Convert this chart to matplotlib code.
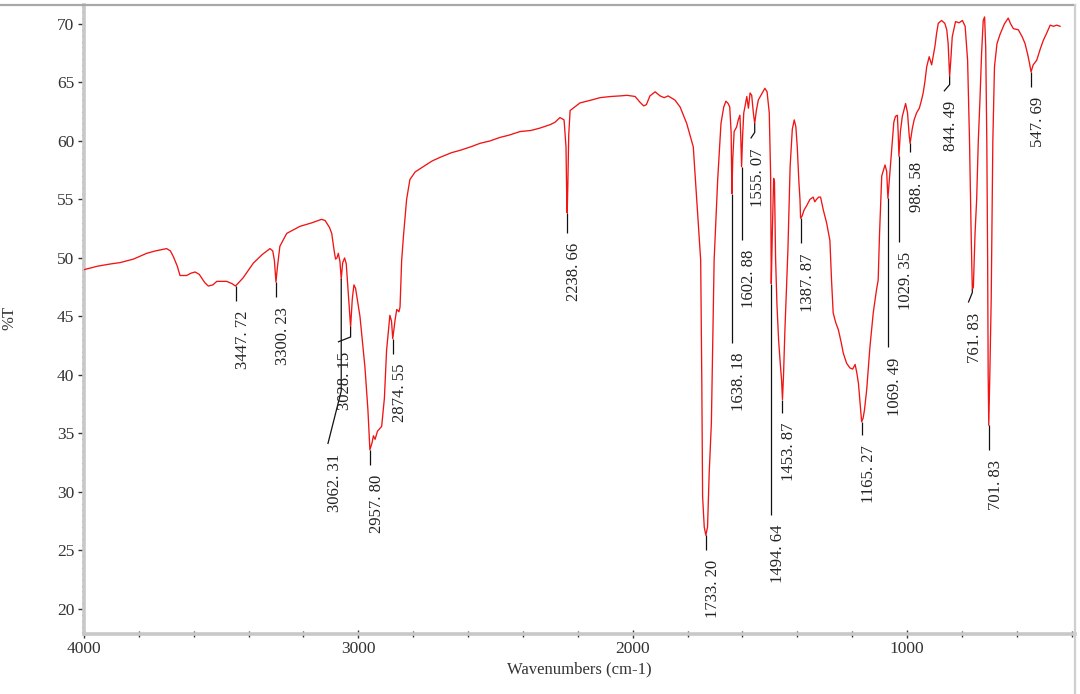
import numpy as np
import matplotlib
matplotlib.use("Agg")
import matplotlib.pyplot as plt
from matplotlib.lines import Line2D

# ---------------- data ----------------
wavenumber = [
    4000, 3950, 3900, 3869, 3820, 3790, 3771, 3740, 3720, 3699, 3685, 3674, 3660, 3650,
    3626, 3610, 3595, 3580, 3560, 3547, 3530, 3516, 3480, 3460, 3447.72, 3420, 3383,
    3350, 3322, 3312, 3306, 3300.23, 3295, 3286, 3261, 3213, 3170, 3134, 3121, 3105,
    3097, 3088, 3083, 3078, 3073, 3067, 3062.31, 3057, 3050, 3044, 3035, 3028.15, 3022,
    3016, 3010, 2994, 2976, 2965, 2957.80, 2950, 2945, 2939, 2930, 2915, 2905, 2897,
    2885, 2879, 2874.55, 2866, 2860, 2852, 2848, 2842, 2835, 2824, 2812, 2793, 2757,
    2730, 2702, 2660, 2629, 2590, 2556, 2520, 2484, 2450, 2411, 2370, 2338, 2300, 2283,
    2265, 2250, 2243, 2240.5, 2238.66, 2236.5, 2233, 2228, 2192, 2150, 2119, 2080,
    2046, 2020, 1991, 1973, 1960, 1950, 1937, 1918, 1900, 1885, 1871, 1846, 1827, 1803,
    1779, 1763, 1752, 1748, 1745, 1739, 1733.20, 1727, 1721, 1713, 1703, 1690, 1678,
    1668, 1660, 1652, 1646, 1641, 1638.18, 1635, 1630, 1621, 1615, 1609, 1606, 1602.88,
    1599, 1595, 1590, 1584, 1578, 1572, 1566, 1560, 1555.07, 1549, 1542, 1530, 1518,
    1510, 1502, 1497, 1494.64, 1491, 1486, 1483, 1479, 1474, 1468, 1462, 1457, 1453.87,
    1450, 1445, 1434, 1426, 1418, 1411, 1405, 1400, 1394, 1390, 1387.87, 1382, 1375,
    1365, 1354, 1342, 1336, 1330, 1322, 1315, 1305, 1293, 1281, 1275, 1269, 1260, 1250,
    1240, 1232, 1220, 1208, 1198, 1189, 1183, 1177, 1171, 1165.27, 1160, 1155, 1147,
    1135, 1123, 1111, 1105, 1100, 1092, 1080, 1074, 1072, 1069.49, 1064, 1055, 1048,
    1042, 1035, 1032, 1029.35, 1024, 1017, 1005, 998, 992, 988.58, 981, 974, 965, 955,
    948, 941, 935, 928, 919, 914, 910, 904, 898, 892, 886, 874, 862, 855, 850, 847,
    844.49, 840, 835, 823, 810, 798, 788, 779, 772, 766, 761.83, 758, 752, 746, 740,
    734, 728, 722, 717, 713, 709, 706, 704, 701.83, 698, 693, 687, 681, 672, 661, 645,
    631, 622, 612, 594, 580, 570, 560, 553, 547.69, 540, 527, 515, 503, 491, 478, 466,
    454, 442,
]
transmittance = [
    49.0, 49.3, 49.5, 49.6, 49.9, 50.2, 50.4, 50.6, 50.7, 50.8, 50.6, 50.1, 49.3, 48.5,
    48.5, 48.7, 48.8, 48.6, 47.9, 47.6, 47.7, 48.0, 48.0, 47.8, 47.6, 48.3, 49.55,
    50.3, 50.8, 50.6, 49.8, 47.95, 49.2, 51.0, 52.1, 52.7, 53.0, 53.3, 53.2, 52.6,
    52.1, 50.6, 49.9, 50.0, 50.4, 49.7, 48.2, 49.6, 50.0, 49.5, 46.5, 44.1, 46.5,
    47.7, 47.4, 45.0, 40.7, 37.0, 33.6, 34.2, 34.8, 34.5, 35.2, 35.6, 38.0, 42.1,
    45.1, 44.6, 43.1, 44.7, 45.6, 45.4, 45.8, 49.8, 52.0, 55.0, 56.7, 57.35, 57.9,
    58.3, 58.6, 59.0, 59.2, 59.5, 59.8, 60.0, 60.3, 60.5, 60.8, 60.9, 61.1, 61.4, 61.6,
    62.0, 61.8, 59.5, 55.5, 53.85, 56.0, 60.5, 62.6, 63.25, 63.5, 63.7, 63.8,
    63.85, 63.9, 63.8, 63.3, 63.0, 63.1, 63.85, 64.2, 63.85, 63.7, 63.85, 63.5, 62.9, 61.5,
    59.5, 53.8, 49.8, 39.6, 29.6, 27.0, 26.3, 27.0, 31.6, 35.9, 49.8, 56.7, 61.5,
    62.9, 63.4, 63.2, 62.9, 60.7, 55.5, 58.5, 60.8, 61.2, 61.8, 62.2, 60.5, 57.8,
    60.5, 62.4, 63.0, 63.8, 62.8, 64.1, 63.9, 62.4, 61.5, 62.6, 63.5, 64.0, 64.5,
    64.2, 62.4, 57.0, 47.8, 52.0, 56.8, 56.5, 50.0, 46.0, 43.0, 41.0, 39.5, 37.9,
    40.0, 43.8, 50.7, 57.8, 61.0, 61.8, 61.2, 59.5, 56.5, 55.0, 53.4, 53.6, 54.1,
    54.5, 55.0, 55.2, 54.8, 55.0, 55.2, 55.2, 54.1, 53.0, 51.5, 48.1, 45.3, 44.5, 43.85,
    42.8, 41.85, 41.0, 40.6, 40.5, 40.9, 40.2, 39.3, 37.6, 36.0, 36.3, 37.0, 38.7,
    42.4, 45.3, 47.3, 48.1, 52.1, 57.0, 57.95, 57.4, 56.4, 55.1, 56.8, 59.5, 61.6,
    62.1, 62.2, 60.65, 58.7, 60.8, 62.1, 63.2, 62.4, 60.5, 59.8, 61.0, 61.8, 62.4, 62.8,
    63.4, 64.1, 65.0, 66.35, 67.2, 66.8, 66.5, 67.3, 68.1, 69.2, 70.05, 70.3, 70.05, 69.5, 68.35, 66.8,
    65.5, 67.0, 68.9, 70.2, 70.1, 70.3, 69.8, 66.9, 60.0, 52.0, 47.3, 47.5, 52.0, 55.0, 60.0,
    63.5, 67.5, 70.3, 70.6, 68.0, 60.0, 50.0, 40.0, 35.7, 40.0, 46.4, 60.0, 66.35, 68.3, 69.1, 70.0,
    70.5, 70.0, 69.6, 69.5, 68.9, 68.35, 67.4, 66.6, 65.9, 66.5, 66.9, 67.8, 68.6, 69.2, 69.9, 69.8,
    69.9, 69.8,
]

peak_labels = [3447.72, 3300.23, 3062.31, 3028.15, 2957.80, 2874.55, 2238.66, 1733.20,
               1638.18, 1602.88, 1555.07, 1494.64, 1453.87, 1387.87, 1165.27, 1069.49,
               1029.35, 988.58, 844.49, 761.83, 701.83, 547.69]

x_ticks = [4000, 3000, 2000, 1000]
y_ticks = [20, 25, 30, 35, 40, 45, 50, 55, 60, 65, 70]

# ------------- layout (pixels) -------------
# (vertical drop, hook dx, hook dy) for each peak connector
connectors = [(15, 0, 0), (15, 0, 0), (112, -13.4, 53), (10, -12.7, 5), (15, 0, 0),
              (15, 0, 0), (20, 0, 0), (15, 0, 0), (149, 0, 0), (73, 0, 0), (9, -4, 6),
              (231, 0, 0), (13, 0, 0), (25, 0, 0), (13, 0, 0), (149, 0, 0), (86, 0, 0),
              (9, 0, 0), (8, -5.7, 6.7), (3, -4, 10), (25, 0, 0), (15, 0, 0)]

W, H, DPI = 1080, 694, 100
SERIF = ["Liberation Serif", "DejaVu Serif"]
plt.rcParams["font.family"] = SERIF

fig = plt.figure(figsize=(W / DPI, H / DPI), dpi=DPI)
fig.patch.set_facecolor("white")
ax_l, ax_r, ax_t, ax_b = 84, 1075, 5, 634
ax = fig.add_axes([ax_l / W, 1 - ax_b / H, (ax_r - ax_l) / W, (ax_b - ax_t) / H])

ax.plot(wavenumber, transmittance, color="#f01414", lw=0.95, zorder=3)
ax.set_xlim(4000, 387.5)
ax.set_ylim(17.86, 71.62)

for side in ("top", "right"):
    ax.spines[side].set_visible(False)
for side in ("left", "bottom"):
    ax.spines[side].set_color("#c8c8c8")
    ax.spines[side].set_linewidth(2.6)

ax.set_xticks(x_ticks)
ax.set_xticks(np.arange(4000, 387, -200), minor=True)
ax.set_yticks(y_ticks)
ax.set_yticks(np.arange(18, 71.6, 0.5), minor=True)
ax.tick_params(axis="x", which="major", direction="inout", length=6, width=1.0,
               color="#333333", labelsize=12.5, labelcolor="#333333", pad=2)
ax.tick_params(axis="x", which="minor", direction="inout", length=4, width=1.0,
               color="#333333")
ax.tick_params(axis="y", which="major", direction="out", length=4, width=1.0,
               color="#333333", labelsize=12.5, labelcolor="#333333", pad=3)
ax.tick_params(axis="y", which="minor", direction="out", length=1.5, width=1.0,
               color="#333333")
ax.set_xlabel("Wavenumbers (cm-1)", fontsize=12, color="#333333", labelpad=3)

fig.text(9 / W, 1 - 318 / H, "%T", rotation=90, fontsize=12, color="#333333",
         ha="center", va="center")

# frame lines of the window
fig.add_artist(Line2D([0, ax_r / W], [1 - 5 / H, 1 - 5 / H], color="#a8a8a8", lw=1.6,
                      transform=fig.transFigure))
fig.add_artist(Line2D([ax_r / W, ax_r / W], [0, 1 - 5 / H], color="#cfcfcf", lw=1.6,
                      transform=fig.transFigure))

# ------------- peak annotations -------------
wn_asc = np.array(wavenumber[::-1], dtype=float)
tr_asc = np.array(transmittance[::-1], dtype=float)
to_disp = ax.transData
from_disp = ax.transData.inverted()

for val, (drop, hdx, hdy) in zip(peak_labels, connectors):
    t_min = float(np.interp(val, wn_asc, tr_asc))
    x0, y0 = to_disp.transform((val, t_min))
    pts = [(x0, y0), (x0, y0 - drop)]
    if hdx or hdy:
        pts.append((x0 + hdx, y0 - drop - hdy))
    data_pts = from_disp.transform(pts)
    ax.plot(data_pts[:, 0], data_pts[:, 1], color="#111111", lw=0.9, zorder=4,
            solid_capstyle="butt")
    xe, ye = pts[-1]
    tx, ty = from_disp.transform((xe + 7, ye - 10))
    txt = f"{val:.2f}".replace(".", ". ")
    ax.text(tx, ty, txt, rotation=90, ha="center", va="top", fontsize=12,
            color="#222222", zorder=5)

fig.savefig("out.png", dpi=DPI, facecolor="white")
